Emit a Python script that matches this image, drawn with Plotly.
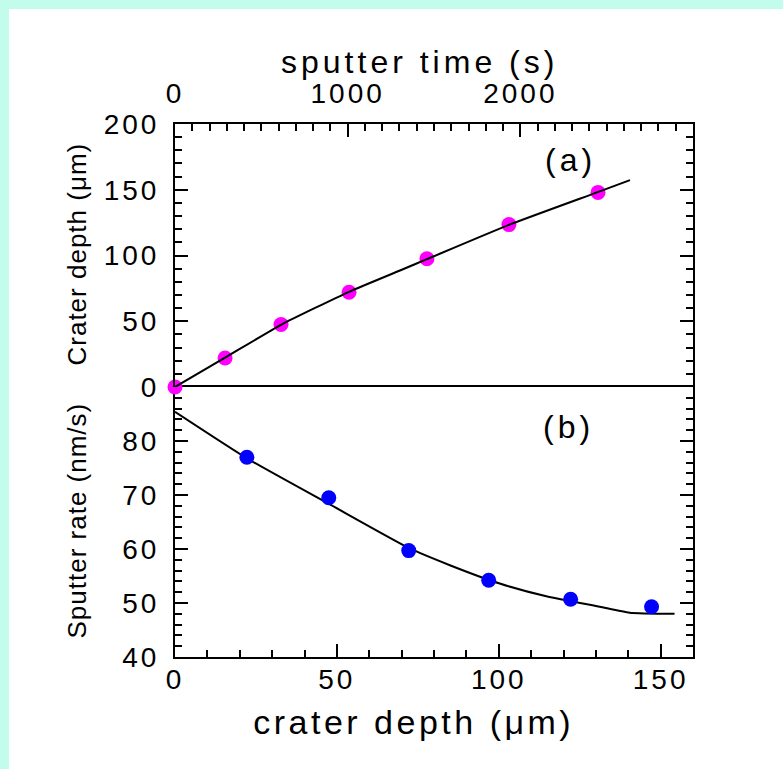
import plotly.graph_objects as go

# ---- data ----
time_s = [0, 290, 614, 1008, 1459, 1934, 2450]
depth_um = [0, 22, 47.5, 72, 97.5, 123.5, 148]
fit_time_s = [0, 290, 614, 1008, 1303, 1459, 1934, 2448, 2635]
fit_depth_um = [0, 22.3, 47.3, 72.4, 88.6, 97.2, 123.3, 148.2, 157.3]

rate_depth_um = [22.2, 47.5, 72.2, 96.9, 122.2, 147.2]
rate_nm_s = [77.0, 69.5, 59.7, 54.2, 50.7, 49.3]
fit_rate_depth_um = [0, 22.2, 47.7, 72.2, 84.9, 100.3, 115, 131.2, 140.4, 154.3]
fit_rate_nm_s = [85.4, 76.8, 68.3, 60.2, 57.0, 53.6, 51.2, 49.3, 48.2, 48.0]

time_ticks = [0, 1000, 2000]
depth_ticks = [0, 50, 100, 150]
top_y_ticks = [0, 50, 100, 150, 200]
bottom_y_ticks = [40, 50, 60, 70, 80]

W, H = 783, 769
FONT = "Liberation Sans, Arial, sans-serif"

def px_x(x):
    return x / W

def px_y(y):
    return 1 - y / H

XDOM = [px_x(175), px_x(693)]
TOPDOM = [px_y(387), px_y(124)]
BOTDOM = [px_y(657), px_y(387)]

fig = go.Figure()

# top panel: crater depth vs sputter time
fig.add_trace(go.Scatter(x=time_s, y=depth_um, mode="markers", xaxis="x2", yaxis="y",
                         marker=dict(color="#ff00ff", size=15, line=dict(width=0)),
                         cliponaxis=False, showlegend=False))
fig.add_trace(go.Scatter(x=fit_time_s, y=fit_depth_um, mode="lines", xaxis="x2", yaxis="y",
                         line=dict(color="black", width=2, shape="spline", smoothing=0.5),
                         cliponaxis=False, showlegend=False))

# bottom panel: sputter rate vs crater depth
fig.add_trace(go.Scatter(x=fit_rate_depth_um, y=fit_rate_nm_s, mode="lines", xaxis="x", yaxis="y2",
                         line=dict(color="black", width=2, shape="spline", smoothing=0.5),
                         cliponaxis=False, showlegend=False))
fig.add_trace(go.Scatter(x=rate_depth_um, y=rate_nm_s, mode="markers", xaxis="x", yaxis="y2",
                         marker=dict(color="#0000ff", size=15, line=dict(width=0)),
                         cliponaxis=False, showlegend=False))

tickfont = dict(family=FONT, size=28, color="black")
common = dict(showgrid=False, zeroline=False, showline=True, linecolor="black", linewidth=2,
              ticks="inside", ticklen=13, tickwidth=2, tickcolor="black",
              tickfont=tickfont, automargin=False)

fig.update_layout(
    width=W, height=H,
    margin=dict(l=0, r=0, t=0, b=0),
    paper_bgcolor="white", plot_bgcolor="white",
    showlegend=False,
    xaxis=dict(domain=XDOM, anchor="y2", range=[0, 160], tickvals=depth_ticks,
               mirror=True, ticklabelstandoff=-4,
               minor=dict(dtick=10, ticks="inside", ticklen=7, tickwidth=1.5, tickcolor="black"),
               **common),
    yaxis2=dict(domain=BOTDOM, anchor="x", range=[40, 90], tickvals=bottom_y_ticks,
                mirror="ticks", ticklabelstandoff=8,
                minor=dict(dtick=2, ticks="inside", ticklen=7, tickwidth=1.5, tickcolor="black"),
                **common),
    xaxis2=dict(domain=XDOM, anchor="y", side="top", range=[0, 3000], tickvals=time_ticks,
                mirror=False, ticklabelstandoff=8,
                minor=dict(dtick=100, ticks="inside", ticklen=7, tickwidth=1.5, tickcolor="black"),
                **common),
    yaxis=dict(domain=TOPDOM, anchor="x2", range=[0, 200], tickvals=top_y_ticks,
               mirror="ticks", ticklabelstandoff=8,
               minor=dict(dtick=10, ticks="inside", ticklen=7, tickwidth=1.5, tickcolor="black"),
               **common),
    shapes=[
        dict(type="rect", xref="paper", yref="paper", x0=0, x1=1, y0=px_y(9), y1=1,
             fillcolor="#c2fdeb", line=dict(width=0), layer="below"),
        dict(type="rect", xref="paper", yref="paper", x0=0, x1=px_x(9), y0=0, y1=1,
             fillcolor="#c2fdeb", line=dict(width=0), layer="below"),
    ],
    annotations=[
        dict(text="sputter time (s)", xref="paper", yref="paper", x=px_x(419), y=px_y(62),
             xanchor="center", yanchor="middle", showarrow=False,
             font=dict(family=FONT, size=32, color="black")),
        dict(text="crater depth (\u03bcm)", xref="paper", yref="paper", x=px_x(413), y=px_y(722),
             xanchor="center", yanchor="middle", showarrow=False,
             font=dict(family=FONT, size=34, color="black")),
        dict(text="Crater depth (\u03bcm)", xref="paper", yref="paper", x=px_x(77), y=px_y(254),
             xanchor="center", yanchor="middle", showarrow=False, textangle=-90,
             font=dict(family=FONT, size=26, color="black")),
        dict(text="Sputter rate (nm/s)", xref="paper", yref="paper", x=px_x(77), y=px_y(521),
             xanchor="center", yanchor="middle", showarrow=False, textangle=-90,
             font=dict(family=FONT, size=26, color="black")),
        dict(text="(a)", xref="paper", yref="paper", x=px_x(570), y=px_y(160),
             xanchor="center", yanchor="middle", showarrow=False,
             font=dict(family=FONT, size=32, color="black")),
        dict(text="(b)", xref="paper", yref="paper", x=px_x(568), y=px_y(427),
             xanchor="center", yanchor="middle", showarrow=False,
             font=dict(family=FONT, size=32, color="black")),
    ],
)

post = """
document.body.style.margin = '0';
document.body.style.overflow = 'hidden';
var gd = document.getElementById('{plot_id}');
var ls = [4, 3.5, 1, 1, 4, 4];
ls.forEach(function(v, i){
  gd.querySelectorAll('.annotation[data-index="' + i + '"] .annotation-text').forEach(function(e){
    e.style.letterSpacing = v + 'px';
  });
});
gd.querySelectorAll('.xtick text, .x2tick text, .ytick text, .y2tick text').forEach(function(e){
  e.style.letterSpacing = '3px';
});
"""

fig.write_html("out.html", post_script=post, config={"displayModeBar": False})
